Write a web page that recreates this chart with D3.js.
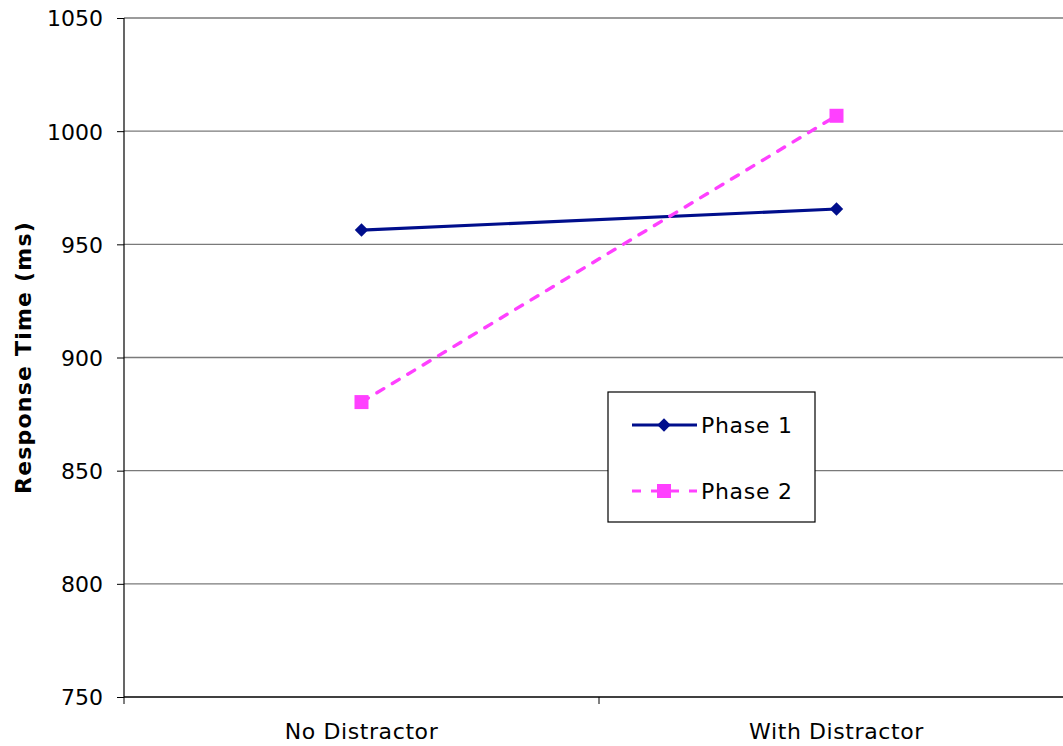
<!DOCTYPE html>
<html>
<head>
<meta charset="utf-8">
<script src="https://cdn.jsdelivr.net/npm/d3@7"></script>
<style>
  html, body { margin: 0; padding: 0; background: #fff; }
  svg { display: block; }
  text { font-family: "DejaVu Sans", Verdana, sans-serif; fill: #000; }
</style>
</head>
<body>
<svg id="chart" width="1063" height="746"></svg>
<script>
// Conditions on the x axis
const categories = ["No Distractor", "With Distractor"];
// Mean response times (ms)
const phase1 = [956.3, 965.6];
const phase2 = [880.3, 1006.8];
const seriesNames = ["Phase 1", "Phase 2"];
const yTicks = [750, 800, 850, 900, 950, 1000, 1050];

(function () {
const svg = d3.select("#chart");
const mLeft = 124, mRight = 1074, mTop = 18, mBottom = 697;

const x = d3.scaleBand().domain(categories).range([mLeft, mRight]).padding(0);
const y = d3.scaleLinear().domain([750, 1050]).range([mBottom, mTop]);
const cx = c => x(c) + x.bandwidth() / 2;

// horizontal gridlines
svg.append("g").selectAll("line").data(yTicks.filter(d => d !== 750)).join("line")
  .attr("x1", mLeft).attr("x2", mRight)
  .attr("y1", d => y(d)).attr("y2", d => y(d))
  .attr("stroke", "#7a7a7a").attr("stroke-width", 1.3);

// y axis
const yAxis = svg.append("g").attr("transform", `translate(${mLeft},0)`)
  .call(d3.axisLeft(y).tickValues(yTicks).tickSize(7).tickPadding(14).tickFormat(d3.format("d")));
yAxis.select(".domain").remove();
yAxis.selectAll("text").style("font-size", "22px").attr("dy", "0.36em");
yAxis.selectAll(".tick line").attr("stroke", "#000");
svg.append("line").attr("x1", mLeft).attr("x2", mLeft).attr("y1", mTop).attr("y2", mBottom)
  .attr("stroke", "#000").attr("stroke-width", 1.2);

// x axis
const xAxis = svg.append("g").attr("transform", `translate(0,${mBottom})`)
  .call(d3.axisBottom(x).tickSize(0).tickPadding(42));
xAxis.select(".domain").remove();
xAxis.selectAll("text").style("font-size", "22px").style("letter-spacing", "0.6px").attr("dy", "0");
svg.append("g").selectAll("line").data([0, 1, 2]).join("line")
  .attr("x1", i => mLeft + i * x.bandwidth()).attr("x2", i => mLeft + i * x.bandwidth())
  .attr("y1", mBottom).attr("y2", mBottom + 7)
  .attr("stroke", "#000");
svg.append("line").attr("x1", mLeft).attr("x2", mRight).attr("y1", mBottom).attr("y2", mBottom)
  .attr("stroke", "#000").attr("stroke-width", 1.3);

// y axis title
svg.append("text")
  .attr("transform", `translate(31,${(mTop + mBottom) / 2}) rotate(-90)`)
  .attr("text-anchor", "middle")
  .style("font-size", "22px").style("font-weight", "bold").style("letter-spacing", "1.2px")
  .text("Response Time (ms)");

const line = d3.line().x((d, i) => cx(categories[i])).y(d => y(d));
const c1 = "#000E8C", c2 = "#FF40FF";

// Phase 1 line with diamond markers
svg.append("path").datum(phase1).attr("d", line)
  .attr("fill", "none").attr("stroke", c1).attr("stroke-width", 3.2);
svg.append("g").selectAll("path").data(phase1).join("path")
  .attr("d", d3.symbol().type(d3.symbolSquare).size(90))
  .attr("transform", (d, i) => `translate(${cx(categories[i])},${y(d)}) rotate(45)`)
  .attr("fill", c1);

// Phase 2 dashed line with square markers
svg.append("path").datum(phase2).attr("d", line)
  .attr("fill", "none").attr("stroke", c2).attr("stroke-width", 3.4)
  .attr("stroke-linecap", "round")
  .attr("stroke-dasharray", "8,10");
svg.append("g").selectAll("rect").data(phase2).join("rect")
  .attr("x", (d, i) => cx(categories[i]) - 7).attr("y", d => y(d) - 7)
  .attr("width", 14).attr("height", 14).attr("fill", c2);

// legend
const lg = svg.append("g").attr("transform", "translate(608,392)");
lg.append("rect").attr("x", 0).attr("y", 0).attr("width", 207).attr("height", 130)
  .attr("fill", "#fff").attr("stroke", "#000").attr("stroke-width", 1.2);
const rows = [
  { name: seriesNames[0], color: c1, dash: null, y: 33 },
  { name: seriesNames[1], color: c2, dash: "9,10", y: 99 }
];
rows.forEach((r, i) => {
  lg.append("line").attr("x1", 24).attr("x2", 89).attr("y1", r.y).attr("y2", r.y)
    .attr("stroke", r.color).attr("stroke-width", 3)
    .attr("stroke-dasharray", r.dash);
  if (i === 0) {
    lg.append("path").attr("d", d3.symbol().type(d3.symbolSquare).size(90))
      .attr("transform", `translate(56,${r.y}) rotate(45)`).attr("fill", r.color);
  } else {
    lg.append("rect").attr("x", 49).attr("y", r.y - 7).attr("width", 14).attr("height", 14)
      .attr("fill", r.color);
  }
  lg.append("text").attr("x", 93).attr("y", r.y).attr("dy", "0.36em")
    .style("font-size", "22px").style("letter-spacing", "0.7px").text(r.name);
});
})();
</script>
</body>
</html>
